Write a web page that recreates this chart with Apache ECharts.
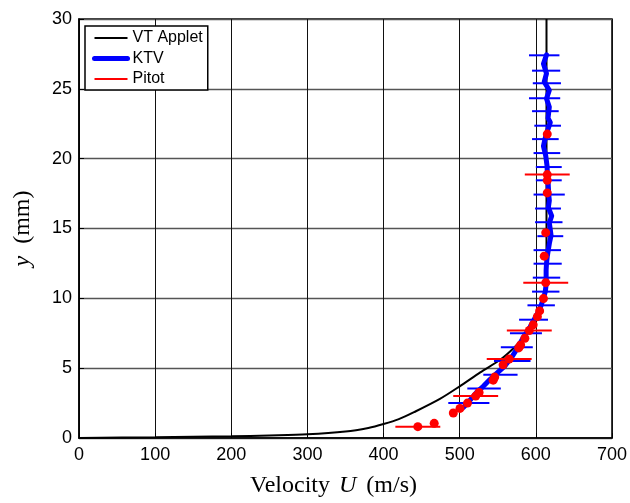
<!DOCTYPE html>
<html>
<head>
<meta charset="utf-8">
<title>Boundary layer velocity profile</title>
<script src="https://cdn.jsdelivr.net/npm/echarts@6/dist/echarts.min.js"></script>
<style>
  html, body { margin: 0; padding: 0; background: #fff; }
  #chart { width: 630px; height: 503px; }
</style>
</head>
<body>
<div id="chart"></div>
<script>
// Axis ranges and ticks
const xRange = [0, 700];
const xStep = 100;
const yRange = [0, 30];
const yStep = 5;

// VT Applet prediction: velocity U (m/s) and wall distance y (mm)
const appletU = [0, 100, 200, 250, 300, 350, 380, 400, 420, 440, 474, 500, 527, 553, 571, 585, 596, 604, 609, 612, 613.5, 614, 614];
const appletY = [0, 0.05, 0.12, 0.18, 0.26, 0.46, 0.72, 1.0, 1.35, 1.85, 2.8, 3.7, 4.7, 5.6, 6.45, 7.3, 8.1, 9.0, 9.8, 10.8, 12, 14, 30];

// KTV measurement profile
const ktvU = [505, 512, 522, 531, 540, 550, 559.5, 568, 575, 583.5, 592, 598, 603, 607, 610, 612.5, 613.5, 613.5, 613.5, 614, 615, 616.5, 618, 620, 619, 617.7, 620.8, 616.4, 617.7, 617, 616.4, 616, 615, 614.8, 613, 610, 612, 614, 619, 616, 617.7, 614, 617.7, 611, 614, 610, 614];
const ktvY = [2.2, 2.6, 3.26, 3.7, 4.2, 4.7, 5.17, 5.76, 6.36, 7.19, 7.9, 8.5, 9.0, 9.5, 10.0, 10.5, 11.0, 11.5, 12.0, 12.5, 13.0, 13.5, 14.0, 14.5, 14.9, 15.4, 15.9, 16.5, 17.0, 17.4, 18.0, 18.5, 19.0, 19.45, 20.2, 20.9, 21.4, 21.8, 22.6, 22.9, 23.7, 24.3, 24.9, 25.5, 26.1, 26.8, 27.43];

// KTV uncertainty bars: height and lower / upper velocity
const ktvBarY = [2.5, 3.55, 4.52, 5.52, 6.5, 7.5, 8.47, 9.5, 10.48, 11.48, 12.48, 13.45, 14.45, 15.45, 16.43, 17.43, 18.45, 19.4, 20.4, 21.4, 22.36, 23.4, 24.33, 25.4, 26.3, 27.4];
const ktvBarLo = [485, 510, 531, 545, 554, 566, 578, 589, 595, 596, 597, 597, 602, 599, 599, 597, 600, 600, 597, 595, 598, 595, 591, 596, 595, 591];
const ktvBarHi = [539, 554, 576, 593, 596, 608, 616, 625, 631, 632, 634, 633, 636, 635, 633, 638, 634, 634, 632, 630, 633, 630, 632, 633, 632, 631];

// Pitot probe measurements; error is the half-width of the bar (0 = no bar)
const pitotU = [445, 466.5, 491.6, 500.4, 510.2, 521, 525.5, 544, 546, 557, 565, 577.5, 580, 585.6, 591.4, 596.5, 602, 605, 610, 613, 611, 613, 615, 615, 615, 615];
const pitotY = [0.81, 1.05, 1.79, 2.12, 2.5, 3.0, 3.26, 4.14, 4.36, 5.24, 5.66, 6.45, 6.66, 7.14, 7.7, 8.1, 8.69, 9.1, 9.98, 11.12, 13.02, 14.7, 17.55, 18.45, 18.86, 21.76];
const pitotErr = [29.5, 0, 0, 0, 0, 29.5, 0, 0, 0, 0, 29.5, 0, 0, 0, 29.5, 0, 0, 0, 0, 29.5, 0, 0, 0, 0, 29.5, 0];

const zip = (a, b) => a.map((v, i) => [v, b[i]]);

const ktvBars = ktvBarY.map((y, i) => [ktvBarLo[i], ktvBarHi[i], y]);
const pitotBars = [];
pitotErr.forEach((e, i) => {
  if (e > 0) pitotBars.push([pitotU[i] - e, pitotU[i] + e, pitotY[i]]);
});

function barRenderer(color, width) {
  return function (params, api) {
    const a = api.coord([api.value(0), api.value(2)]);
    const b = api.coord([api.value(1), api.value(2)]);
    return {
      type: 'line',
      shape: { x1: a[0], y1: a[1], x2: b[0], y2: b[1] },
      style: { stroke: color, lineWidth: width }
    };
  };
}

const sans = '"Liberation Sans", Arial, sans-serif';
const serif = '"Liberation Serif", "Times New Roman", serif';

const chart = echarts.init(document.getElementById('chart'), null, { renderer: 'canvas' });

chart.setOption({
  animation: false,
  backgroundColor: '#fff',
  grid: {
    left: 79, right: 18, top: 19, bottom: 64,
    show: true, borderColor: '#000', borderWidth: 1.5, backgroundColor: 'transparent'
  },
  legend: {
    orient: 'vertical',
    left: 85, top: 26,
    padding: [4, 5, 3, 7],
    itemGap: 4.5,
    itemWidth: 33,
    itemHeight: 14,
    borderColor: '#000',
    borderWidth: 1.5,
    backgroundColor: '#fff',
    textStyle: { fontFamily: sans, fontSize: 16, color: '#000' },
    selectedMode: false,
    data: [
      { name: 'VT Applet', itemStyle: { opacity: 0 }, lineStyle: { width: 2, opacity: 1, color: '#000' } },
      { name: 'KTV', itemStyle: { opacity: 0 }, lineStyle: { width: 5, opacity: 1, color: '#0000ff' } },
      { name: 'Pitot', itemStyle: { opacity: 0 }, lineStyle: { width: 2, opacity: 1, color: '#ff0000' } }
    ]
  },
  xAxis: {
    type: 'value',
    min: xRange[0], max: xRange[1], interval: xStep,
    name: 'Velocity {u|U} (m/s)',
    nameLocation: 'middle',
    nameGap: 36,
    nameTextStyle: {
      fontFamily: serif, fontSize: 24, color: '#000',
      padding: [0, 24, 0, 0],
      rich: { u: { fontFamily: serif, fontSize: 24, fontStyle: 'italic', color: '#000', padding: [0, 4, 0, 3] } }
    },
    axisLine: { show: true, lineStyle: { color: '#000', width: 1.5 } },
    axisTick: { show: true, inside: true, length: 5, lineStyle: { color: '#000' } },
    axisLabel: { margin: 8, fontFamily: sans, fontSize: 18, color: '#000' },
    splitLine: { show: true, lineStyle: { color: '#111', width: 1 } }
  },
  yAxis: {
    type: 'value',
    min: yRange[0], max: yRange[1], interval: yStep,
    name: '{y|y} (mm)',
    nameLocation: 'middle',
    nameGap: 44,
    nameTextStyle: {
      fontFamily: serif, fontSize: 24, color: '#000',
      rich: { y: { fontFamily: serif, fontSize: 24, fontStyle: 'italic', color: '#000', padding: [0, 6, 0, 0] } }
    },
    axisLine: { show: true, lineStyle: { color: '#000', width: 1.5 } },
    axisTick: { show: true, inside: true, length: 5, lineStyle: { color: '#000' } },
    axisLabel: { margin: 7, fontFamily: sans, fontSize: 18, color: '#000' },
    splitLine: { show: true, lineStyle: { color: '#555', width: 1.4 } }
  },
  series: [
    {
      name: 'VT Applet', type: 'line', z: 2,
      data: zip(appletU, appletY),
      symbol: 'none', smooth: 0.3,
      lineStyle: { color: '#000', width: 2 }
    },
    {
      name: 'KTV bars', type: 'custom', z: 3,
      data: ktvBars,
      encode: { x: [0, 1], y: 2 },
      renderItem: barRenderer('#0000ff', 2)
    },
    {
      name: 'KTV', type: 'line', z: 4,
      data: zip(ktvU, ktvY),
      symbol: 'none',
      lineStyle: { color: '#0000ff', width: 5, join: 'round', cap: 'round' }
    },
    {
      name: 'Pitot bars', type: 'custom', z: 5,
      data: pitotBars,
      encode: { x: [0, 1], y: 2 },
      renderItem: barRenderer('#ff0000', 2)
    },
    {
      name: 'Pitot', type: 'line', z: 6,
      data: zip(pitotU, pitotY),
      symbol: 'circle', symbolSize: 9, showAllSymbol: true,
      itemStyle: { color: '#ff0000' },
      lineStyle: { color: '#ff0000', opacity: 0 }
    }
  ]
});
</script>
</body>
</html>
